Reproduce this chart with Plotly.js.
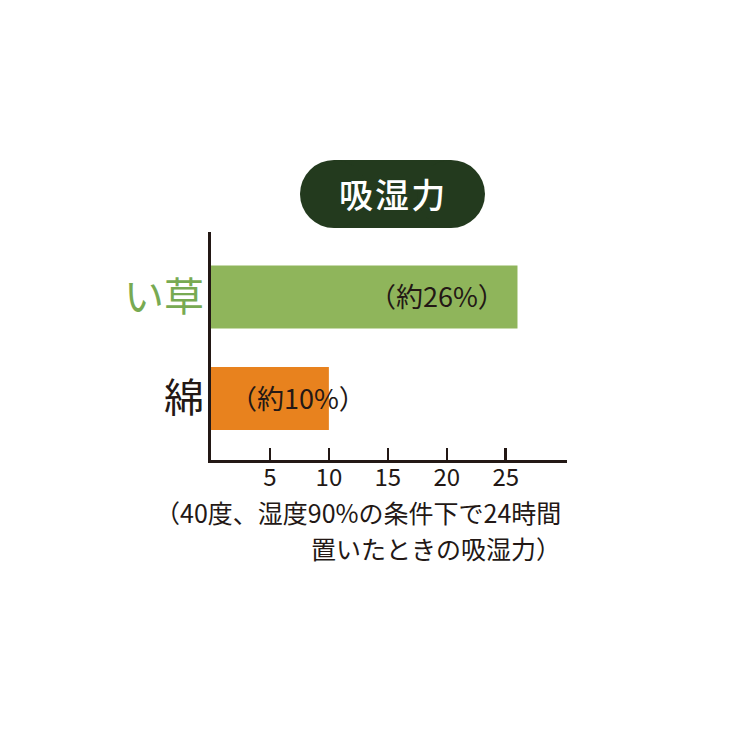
<!DOCTYPE html>
<html>
<head>
<meta charset="utf-8">
<script src="https://cdn.plot.ly/plotly-3.0.1.min.js"></script>
<style>
  html, body { margin: 0; padding: 0; background: #fff; }
  #chart { width: 740px; height: 740px; }
</style>
</head>
<body>
<div id="chart"></div>
<script>
// data, bottom to top
const categories = ['綿', 'い草'];
const values = [10, 26];
const valueLabels = ['（約10%）', '（約26%）'];
const categoryColors = ['#231815', '#78aa52'];
const barColors = ['#e8821e', '#8fb55b'];
const xTicks = [5, 10, 15, 20, 25];

const chartTitle = '吸湿力';
const noteLines = ['（40度、湿度90%の条件下で24時間', '置いたときの吸湿力）'];

const INK = '#231815';
const PILL = '#233a1e';
const JP = '"Noto Sans CJK JP", "Noto Sans", sans-serif';

// where the value label sits relative to the bar end (px)
const labelShift = [39, -10];

const trace = {
    type: 'bar',
    orientation: 'h',
    x: values,
    y: categories,
    width: 0.62,
    marker: { color: barColors, line: { width: 0 } },
    hoverinfo: 'skip'
};

const annotations = categories.map((c, i) => ({
    x: values[i],
    y: c,
    xref: 'x',
    yref: 'y',
    text: valueLabels[i],
    showarrow: false,
    xanchor: 'right',
    xshift: labelShift[i],
    yshift: 1,
    font: { family: JP, size: 27, color: INK }
}));

// title pill text
annotations.push({
    xref: 'paper', yref: 'paper',
    x: 0.5098, y: 1.1667,
    text: chartTitle.split('').join('\u200a'),
    showarrow: false,
    xanchor: 'center', yanchor: 'middle',
    font: { family: JP, size: 34, color: '#ffffff', weight: 500 }
});

// footnote, two right-aligned lines
const noteY = [-0.228, -0.386];
noteLines.forEach((t, i) => annotations.push({
    xref: 'paper', yref: 'paper',
    x: 0.9888, y: noteY[i],
    text: t,
    showarrow: false,
    xanchor: 'right', yanchor: 'middle',
    font: { family: JP, size: 25, color: INK }
}));

const pillAnchor = { xref: 'paper', yref: 'paper', xsizemode: 'pixel', ysizemode: 'pixel',
    xanchor: 0.5098, yanchor: 1.1667, fillcolor: PILL, line: { width: 0 }, layer: 'below' };

const shapes = [
    Object.assign({ type: 'rect', x0: -58.5, x1: 58.5, y0: -34, y1: 34 }, pillAnchor),
    Object.assign({ type: 'circle', x0: -92.5, x1: -24.5, y0: -34, y1: 34 }, pillAnchor),
    Object.assign({ type: 'circle', x0: 24.5, x1: 92.5, y0: -34, y1: 34 }, pillAnchor)
];

const layout = {
    width: 740,
    height: 740,
    margin: { l: 211, r: 173, t: 232, b: 280 },
    paper_bgcolor: '#ffffff',
    plot_bgcolor: '#ffffff',
    showlegend: false,
    font: { family: JP, color: INK },
    xaxis: {
        range: [0, 30.2],
        showgrid: false,
        zeroline: false,
        showline: true,
        linecolor: INK,
        linewidth: 3,
        ticks: 'inside',
        ticklen: 12,
        tickwidth: 2.5,
        tickcolor: INK,
        tickmode: 'array',
        tickvals: xTicks,
        ticktext: xTicks.map(String),
        tickfont: { family: JP, size: 24, color: INK },
        ticklabelstandoff: -6,
        fixedrange: true
    },
    yaxis: {
        type: 'category',
        range: [-0.606, 1.64],
        showgrid: false,
        zeroline: false,
        showline: true,
        linecolor: INK,
        linewidth: 3,
        ticks: '',
        tickmode: 'array',
        tickvals: categories,
        ticktext: categories.map((c, i) => `<span style="color:${categoryColors[i]}">${c}</span>`),
        tickfont: { family: JP, size: 40, color: INK },
        ticklabelstandoff: -4,
        fixedrange: true
    },
    shapes: shapes,
    annotations: annotations
};

Plotly.newPlot('chart', [trace], layout, { displayModeBar: false, staticPlot: true });
</script>
</body>
</html>
